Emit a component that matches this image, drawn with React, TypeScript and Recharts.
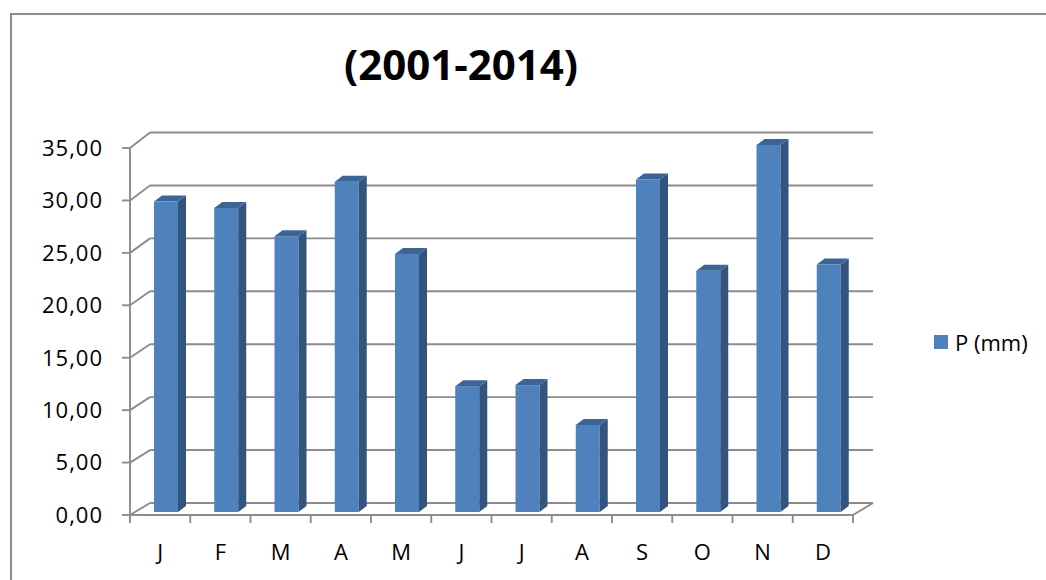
import React from 'react';
import { BarChart, Bar, XAxis, YAxis, CartesianGrid, Legend } from 'recharts';

const months = ['J', 'F', 'M', 'A', 'M', 'J', 'J', 'A', 'S', 'O', 'N', 'D'];
const precipitation = [29.6, 29.0, 26.3, 31.5, 24.6, 12.0, 12.1, 8.3, 31.7, 23.0, 35.0, 23.6];
const yTicks = [0, 5, 10, 15, 20, 25, 30, 35];
const seriesName = 'P (mm)';
const title = '(2001-2014)';

const data = months.map((m, i) => ({ month: m, p: precipitation[i] }));

const FONT = '"Open Sans", "Liberation Sans", sans-serif';
const GRID = '#8c8c8c';
const DEPTH_X = 20;

const gridLine = (props: any) => {
  const { x1, y1, x2, index, y, height } = props;
  const bottom = (y ?? 0) + (height ?? 0);
  const t = height ? (bottom - y1) / height : 0;
  const dy = 12 + 3.5 * t;
  const bx = x1 + DEPTH_X;
  const by = y1 - dy;
  const isBottom = Math.abs(y1 - bottom) < 1;
  return (
    <g key={`hl-${index}`}>
      <line x1={x1} y1={y1} x2={bx} y2={by} stroke={GRID} strokeWidth={1.9} />
      <line x1={bx} y1={by} x2={x2 + DEPTH_X} y2={by} stroke={GRID} strokeWidth={1.9} />
      {isBottom && <line x1={x2} y1={y1} x2={x2 + DEPTH_X} y2={by} stroke={GRID} strokeWidth={1.9} />}
    </g>
  );
};

const Bar3D = (props: any) => {
  const { x, y, width, height } = props;
  if (!height || height <= 0) return null;
  const fx = x + 6;
  const fy = y - 3;
  const dx = 8;
  const dy = 6;
  return (
    <g>
      <rect x={fx} y={fy} width={width} height={height} fill="#4F81BD" />
      <polygon
        points={`${fx + width},${fy} ${fx + width + dx},${fy - dy} ${fx + width + dx},${fy + height - dy} ${fx + width},${fy + height}`}
        fill="#32547F"
      />
      <polygon
        points={`${fx},${fy} ${fx + dx},${fy - dy} ${fx + width + dx},${fy - dy} ${fx + width},${fy}`}
        fill="#3C6495"
      />
    </g>
  );
};

const XTick = (props: any) => {
  const { x, y, payload, index } = props;
  const half = payload && typeof payload.offset === 'number' ? payload.offset : 30;
  const axisY = y - 8;
  return (
    <g>
      <line x1={x - half} y1={axisY} x2={x - half} y2={axisY + 8} stroke={GRID} strokeWidth={1.9} />
      {index === months.length - 1 && (
        <line x1={x + half} y1={axisY} x2={x + half} y2={axisY + 8} stroke={GRID} strokeWidth={1.9} />
      )}
      <text x={x} y={axisY + 45} textAnchor="middle" fontSize={22} fontFamily={FONT} fill="#000">
        {payload.value}
      </text>
    </g>
  );
};

const LegendContent = () => (
  <div style={{ display: 'flex', alignItems: 'center', fontFamily: FONT, fontSize: 22, color: '#000' }}>
    <span style={{ display: 'inline-block', width: 14, height: 14, background: '#4F81BD', marginRight: 7 }} />
    <span>{seriesName}</span>
  </div>
);

export default function App() {
  return (
    <div style={{ position: 'fixed', left: 0, top: 0, width: 1046, height: 580, background: '#fff', overflow: 'hidden' }}>
      <div
        style={{
          position: 'absolute',
          left: 10,
          top: 13,
          width: 1200,
          height: 700,
          borderTop: `2px solid ${GRID}`,
          borderLeft: `2px solid ${GRID}`,
        }}
      />
      <div
        style={{
          position: 'absolute',
          left: 261,
          top: 43,
          width: 400,
          textAlign: 'center',
          fontFamily: FONT,
          fontWeight: 700,
          fontSize: 42,
          lineHeight: '42px',
          color: '#000',
        }}
      >
        {title}
      </div>
      <div style={{ position: 'absolute', left: 0, top: 0 }}>
        <BarChart width={1046} height={580} data={data} margin={{ top: 148, right: 193, bottom: 15, left: 0 }}>
          <CartesianGrid vertical={false} horizontal={gridLine} />
          <XAxis
            dataKey="month"
            height={50}
            tickSize={8}
            tickMargin={0}
            tickLine={false}
            axisLine={{ stroke: GRID, strokeWidth: 1.9 }}
            tick={XTick}
            interval={0}
          />
          <YAxis
            width={130}
            domain={[0, 35]}
            ticks={yTicks}
            interval={0}
            tickSize={8}
            tickMargin={19}
            tickLine={{ stroke: GRID, strokeWidth: 1.9 }}
            axisLine={{ stroke: GRID, strokeWidth: 1.9 }}
            tick={{ fontSize: 22, fontFamily: FONT, fill: '#000', letterSpacing: 1 }}
            tickFormatter={(v: number) => v.toFixed(2).replace('.', ',')}
          />
          <Legend
            layout="vertical"
            align="center"
            verticalAlign="middle"
            content={LegendContent}
            wrapperStyle={{ left: 934, top: 327, width: 112 }}
          />
          <Bar dataKey="p" name={seriesName} barSize={24} shape={Bar3D} isAnimationActive={false} />
        </BarChart>
      </div>
    </div>
  );
}
